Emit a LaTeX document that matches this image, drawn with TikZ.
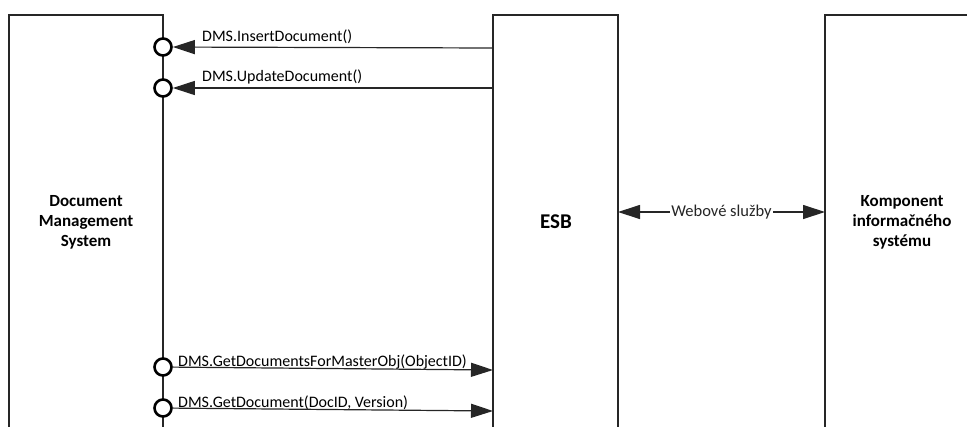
\documentclass[tikz,border=0pt]{standalone}
\usepackage{fontspec}
\setmainfont{Carlito}
\usetikzlibrary{arrows.meta}
\usetikzlibrary{calc}

\tikzset{
  lane/.style={black!85, line width=1.2pt},
  port/.style={circle, draw=black, line width=2.6pt, minimum size=17pt, inner sep=0pt, fill=white},
  msg/.style={black!85, line width=1.2pt, -{Triangle[length=22pt,width=14pt]}},
  call/.style={font=\fontsize{16}{19}\selectfont, inner sep=0pt, anchor=base west},
  title/.style={font=\fontsize{17}{20}\selectfont\bfseries, align=center},
}

\begin{document}
\begin{tikzpicture}[x=1pt, y=-1pt]
\useasboundingbox (0,0) rectangle (967,426);
\clip (0,0) rectangle (967,426);

% the three components, open at the bottom
\draw[lane] (9,440) -- (9,15) -- (163,15) -- (163,440);
\draw[lane] (493,440) -- (493,15) -- (618,15) -- (618,440);
\draw[lane] (825,440) -- (825,15) -- (990,15);

\node[title] (dms) at (86,222) {Document\\Management\\System};
\node[title, font=\fontsize{21}{24}\selectfont\bfseries] (esb) at (556,222) {ESB};
\node[title] (kis) at (902,222) {Komponent\\informačného\\systému};

% interfaces on the DMS side
\node[port] (pIns) at (163,47) {};
\node[port] (pUpd) at (163,88) {};
\node[port] (pObj) at (163,367) {};
\node[port] (pDoc) at (163,408) {};

\coordinate (eIns) at (493,48);
\coordinate (eUpd) at (493,88);
\coordinate (eObj) at (493,370);
\coordinate (eDoc) at (493,411);

\draw[msg] (eIns) -- (pIns);
\draw[msg] (eUpd) -- (pUpd);
\draw[msg] (pObj) -- (eObj);
\draw[msg] (pDoc) -- (eDoc);

\node[call] (lIns) at (202,41) {DMS.InsertDocument()};
\node[call] (lUpd) at (202,81) {DMS.UpdateDocument()};
\node[call] (lObj) at (178,366) {DMS.GetDocumentsForMasterObj(ObjectID)};
\node[call] (lDoc) at (178,407) {DMS.GetDocument(DocID, Version)};

% web services between ESB and the IS component
\coordinate (wL) at (618,212);
\coordinate (wR) at (825,212);
\draw[msg, {Triangle[length=22pt,width=14pt]}-{Triangle[length=22pt,width=14pt]}] (wL) -- (wR)
  node[midway, fill=white, inner sep=1pt, font=\fontsize{16.5}{19}\selectfont] (ws) {Webové služby};
\end{tikzpicture}
\end{document}
